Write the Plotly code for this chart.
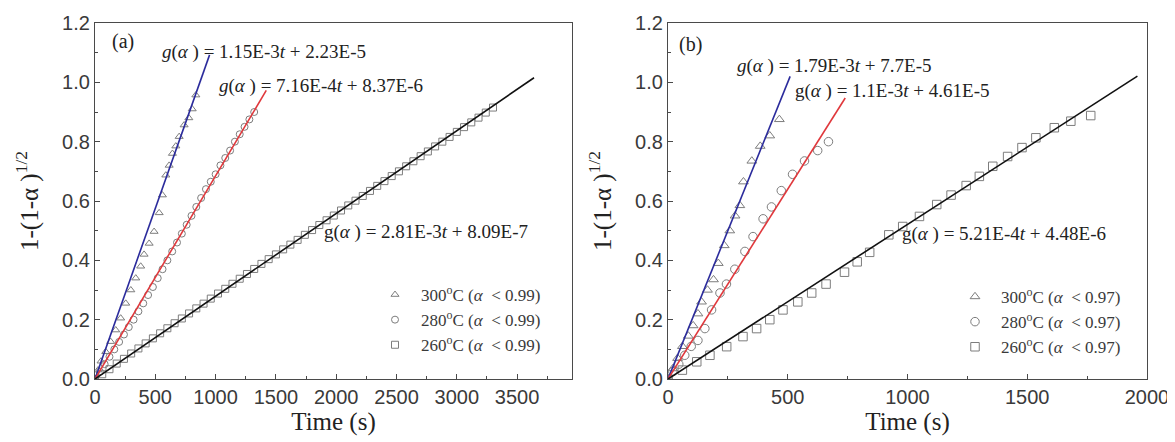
import plotly.graph_objects as go

# ---------------- data: panel (a) ----------------
a_t300 = [0, 25, 50, 89, 130, 172, 213, 255, 297, 338, 379, 407, 449, 490, 532, 559, 587, 615, 642, 670, 698, 739, 778, 806, 836]
a_y300 = [0, 0.03, 0.06, 0.092, 0.126, 0.165, 0.205, 0.255, 0.30, 0.34, 0.38, 0.42, 0.457, 0.497, 0.56, 0.62, 0.687, 0.72, 0.76, 0.785, 0.817, 0.856, 0.88, 0.91, 0.957]

a_t280 = [0, 40, 80, 120, 160, 200, 240, 280, 320, 360, 400, 440, 480, 520, 560, 600, 640, 680,
          720, 760, 800, 840, 880, 920, 960, 1000, 1040, 1080, 1120, 1160, 1200, 1240, 1280, 1320]
a_y280 = [0, 0.025, 0.05, 0.075, 0.10, 0.125, 0.15, 0.175, 0.20, 0.228, 0.255, 0.283, 0.31, 0.34, 0.37, 0.40, 0.43, 0.46,
          0.49, 0.52, 0.55, 0.58, 0.61, 0.64, 0.665, 0.69, 0.72, 0.745, 0.77, 0.80, 0.825, 0.85, 0.875, 0.90]

a_t260 = [0, 60, 120, 180, 240, 300, 360, 420, 480, 540, 600, 660, 720, 780, 840, 900, 960, 1020, 1080, 1140,
          1200, 1260, 1320, 1380, 1440, 1500, 1560, 1620, 1680, 1740, 1800, 1860, 1920, 1980, 2040, 2100, 2160,
          2220, 2280, 2340, 2400, 2460, 2520, 2580, 2640, 2700, 2760, 2820, 2880, 2940, 3000, 3060, 3120, 3180,
          3240, 3300]
a_y260 = [0, 0.016, 0.033, 0.052, 0.068, 0.086, 0.103, 0.12, 0.137, 0.154, 0.171, 0.188, 0.204, 0.221, 0.238,
          0.254, 0.271, 0.288, 0.304, 0.321, 0.338, 0.354, 0.371, 0.388, 0.404, 0.42, 0.437, 0.453, 0.469, 0.486,
          0.502, 0.519, 0.535, 0.551, 0.568, 0.585, 0.601, 0.617, 0.634, 0.651, 0.667, 0.684, 0.70, 0.717, 0.734,
          0.751, 0.767, 0.784, 0.80, 0.816, 0.833, 0.849, 0.865, 0.881, 0.898, 0.915]

# fitted lines (slope, intercept, last time) panel (a): 300, 280, 260 C
a_fit_slope = [1.15e-3, 6.85e-4, 2.79e-4]
a_fit_icpt = [2.23e-5, 8.37e-6, 8.09e-7]
a_fit_tend = [950, 1420, 3640]

# ---------------- data: panel (b) ----------------
b_t300 = [0, 20, 40, 60, 85, 105, 125, 140, 165, 190, 210, 235, 258, 280, 300, 315, 350, 385, 425, 465]
b_y300 = [0, 0.035, 0.07, 0.11, 0.145, 0.18, 0.22, 0.26, 0.30, 0.335, 0.39, 0.45, 0.50, 0.55, 0.585, 0.665, 0.735, 0.785, 0.82, 0.875]

b_t280 = [0, 20, 45, 70, 97, 125, 154, 182, 217, 244, 279, 321, 355, 397, 432, 473, 520, 570, 625, 670]
b_y280 = [0, 0.025, 0.05, 0.08, 0.11, 0.13, 0.17, 0.233, 0.29, 0.32, 0.37, 0.43, 0.48, 0.54, 0.58, 0.635, 0.69, 0.735, 0.77, 0.80]

b_t260 = [0, 60, 120, 175, 245, 313, 370, 425, 480, 542, 600, 660, 737, 790, 842, 922, 980, 1050, 1122, 1182,
          1245, 1300, 1356, 1418, 1478, 1536, 1613, 1682, 1765]
b_y260 = [0, 0.03, 0.058, 0.08, 0.109, 0.143, 0.17, 0.20, 0.233, 0.26, 0.29, 0.32, 0.36, 0.395, 0.427, 0.486,
          0.514, 0.548, 0.588, 0.62, 0.652, 0.683, 0.717, 0.75, 0.78, 0.813, 0.847, 0.869, 0.888]

b_fit_slope = [2.0e-3, 1.28e-3, 5.21e-4]
b_fit_icpt = [7.7e-5, 4.61e-5, 4.48e-6]
b_fit_tend = [510, 740, 1960]

# texts
a_eqs = ["<i>g</i>(<i>α</i> ) = 1.15E-3<i>t</i> + 2.23E-5",
         "<i>g</i>(<i>α</i> ) = 7.16E-4<i>t</i> + 8.37E-6",
         "g(<i>α</i> ) = 2.81E-3<i>t</i> + 8.09E-7"]
b_eqs = ["<i>g</i>(<i>α</i> ) = 1.79E-3<i>t</i> + 7.7E-5",
         "g(<i>α</i> ) = 1.1E-3<i>t</i> + 4.61E-5",
         "g(<i>α</i> ) = 5.21E-4<i>t</i> + 4.48E-6"]
a_legend = ["300<sup>o</sup>C (<i>α</i>  < 0.99)", "280<sup>o</sup>C (<i>α</i>  < 0.99)", "260<sup>o</sup>C (<i>α</i>  < 0.99)"]
b_legend = ["300<sup>o</sup>C (<i>α</i>  < 0.97)", "280<sup>o</sup>C (<i>α</i>  < 0.97)", "260<sup>o</sup>C (<i>α</i>  < 0.97)"]

# ---------------- styling ----------------
SERIF = "Liberation Serif, Times New Roman, serif"
SANS = "Liberation Sans, Arial, sans-serif"
line_colors = ["#2b2b9c", "#e0383c", "#111111"]
marker_symbols = ["triangle-up-open", "circle-open", "square-open"]
marker_color = "#7d7d7d"

fig = go.Figure()

def add_panel(ts, ys, slopes, icpts, tends, labels, xa, ya, legend, msize):
    for i in range(3):
        fig.add_trace(go.Scatter(
            x=ts[i], y=ys[i], mode="markers", name=labels[i],
            marker=dict(symbol=marker_symbols[i], size=msize, color=marker_color, line=dict(width=1, color=marker_color)),
            xaxis=xa, yaxis=ya, legend=legend, legendgroup=legend + str(i), showlegend=True))
    for i in range(3):
        t0, t1 = 0, tends[i]
        fig.add_trace(go.Scatter(
            x=[t0, t1], y=[icpts[i] + slopes[i] * t0, icpts[i] + slopes[i] * t1],
            mode="lines", line=dict(color=line_colors[i], width=1.6),
            xaxis=xa, yaxis=ya, showlegend=False, hoverinfo="skip"))

add_panel([a_t300, a_t280, a_t260], [a_y300, a_y280, a_y260], a_fit_slope, a_fit_icpt, a_fit_tend,
          a_legend, "x", "y", "legend", 7)
add_panel([b_t300, b_t280, b_t260], [b_y300, b_y280, b_y260], b_fit_slope, b_fit_icpt, b_fit_tend,
          b_legend, "x2", "y2", "legend2", 8.5)

# page body has an 8 px margin: figure is laid out in reference pixels minus 8
OFF = 8
W, H = 1175 - OFF, 442 - OFF
def fx(px):
    return (px - OFF) / W
def fy(py):
    return 1 - (py - OFF) / H

ydom = [fy(379), fy(23)]

axis_common = dict(
    showgrid=False, zeroline=False, showline=True, linecolor="#4a4a4a", linewidth=1.3, mirror=True,
    ticks="inside", ticklen=5, tickwidth=1.1, tickcolor="#4a4a4a", automargin=False,
    tickfont=dict(family=SANS, size=20, color="#3a3a3a"),
)
minor_common = dict(ticks="inside", ticklen=3, tickwidth=1, tickcolor="#4a4a4a")

title_font = dict(family=SERIF, size=25, color="#222222")
ytitle = "1-(1-α )<sup>1/2</sup>"

fig.update_layout(
    width=W, height=H, margin=dict(l=0, r=0, t=0, b=0, pad=0, autoexpand=False),
    paper_bgcolor="white", plot_bgcolor="white",
    xaxis=dict(domain=[fx(95), fx(572)], range=[0, 3955], dtick=500, tick0=0,
               minor=dict(dtick=250, **minor_common),
               title=dict(text="Time (s)", font=title_font, standoff=1), anchor="y", **axis_common),
    yaxis=dict(domain=ydom, range=[0, 1.2], dtick=0.2, tick0=0, tickformat=".1f",
               minor=dict(dtick=0.1, **minor_common),
               title=dict(text=ytitle, font=title_font, standoff=16), anchor="x", **axis_common),
    xaxis2=dict(domain=[fx(668), fx(1147)], range=[0, 2000], dtick=500, tick0=0,
                minor=dict(dtick=250, **minor_common),
                title=dict(text="Time (s)", font=title_font, standoff=1), anchor="y2", **axis_common),
    yaxis2=dict(domain=ydom, range=[0, 1.2], dtick=0.2, tick0=0, tickformat=".1f",
                minor=dict(dtick=0.1, **minor_common),
                title=dict(text=ytitle, font=title_font, standoff=16), anchor="x2", **axis_common),
    legend=dict(x=fx(369), y=fy(277), xanchor="left", yanchor="top", bgcolor="rgba(0,0,0,0)",
                font=dict(family=SERIF, size=17, color="#3a3a3a"), tracegroupgap=0, itemwidth=42),
    legend2=dict(x=fx(949), y=fy(279), xanchor="left", yanchor="top", bgcolor="rgba(0,0,0,0)",
                 font=dict(family=SERIF, size=17, color="#3a3a3a"), tracegroupgap=0, itemwidth=42),
)

ann_font = dict(family=SERIF, size=19, color="#222222")
# panel labels
fig.add_annotation(x=124, y=1.136, xref="x", yref="y", text="(a)", showarrow=False, xanchor="left",
                   font=dict(family=SERIF, size=20, color="#222222"))
fig.add_annotation(x=38, y=1.126, xref="x2", yref="y2", text="(b)", showarrow=False, xanchor="left",
                   font=dict(family=SERIF, size=20, color="#222222"))
# equations panel (a)
a_eq_pos = [(539, 1.102), (1012, 0.988), (1882, 0.495)]
for txt, (x, y) in zip(a_eqs, a_eq_pos):
    fig.add_annotation(x=x, y=y, xref="x", yref="y", text=txt, showarrow=False, xanchor="left", font=ann_font)
# equations panel (b)
b_eq_pos = [(280, 1.054), (522, 0.971), (969, 0.489)]
for txt, (x, y) in zip(b_eqs, b_eq_pos):
    fig.add_annotation(x=x, y=y, xref="x2", yref="y2", text=txt, showarrow=False, xanchor="left", font=ann_font)

fig.write_html("out.html")
